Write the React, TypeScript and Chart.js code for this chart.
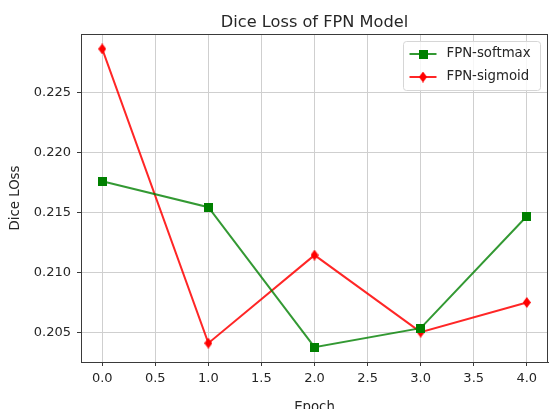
import React, { useEffect, useRef } from "react";
import { Chart, registerables } from "chart.js";

Chart.register(...registerables);

// Dice loss per epoch for the two FPN variants
const epochs = [0, 1, 2, 3, 4];
const softmaxLoss = [0.21763, 0.21547, 0.20381, 0.20539, 0.21472];
const sigmoidLoss = [0.22867, 0.20414, 0.21148, 0.20506, 0.20753];

const xTicks = [0, 0.5, 1, 1.5, 2, 2.5, 3, 3.5, 4];
const yTicks = [0.205, 0.21, 0.215, 0.22, 0.225];

const seriesNames = ["FPN-softmax", "FPN-sigmoid"];
const titleText = "Dice Loss of FPN Model";
const xTitle = "Epoch";
const yTitle = "Dice LOss";

const FONT = "'DejaVu Sans', Verdana, sans-serif";
const GREEN = "#008000";
const RED = "#ff0000";
const GREEN_LINE = "rgba(0,128,0,0.8)";
const RED_LINE = "rgba(255,0,0,0.85)";
const TEXT = "#262626";
const SPINE = "#3a3a3a";
const GRID = "#cfcfcf";

function squareMarker(size: number, color: string) {
  const c = document.createElement("canvas");
  c.width = size;
  c.height = size;
  const ctx = c.getContext("2d")!;
  ctx.fillStyle = color;
  ctx.fillRect(0, 0, size, size);
  return c;
}

function diamondMarker(w: number, h: number, color: string) {
  const c = document.createElement("canvas");
  c.width = w;
  c.height = h;
  const ctx = c.getContext("2d")!;
  ctx.fillStyle = color;
  ctx.beginPath();
  ctx.moveTo(w / 2, 0);
  ctx.lineTo(w, h / 2);
  ctx.lineTo(w / 2, h);
  ctx.lineTo(0, h / 2);
  ctx.closePath();
  ctx.fill();
  return c;
}

const decorations = {
  id: "decorations",
  afterDraw(chart: any) {
    const { ctx, chartArea } = chart;
    const { left, right, top, bottom } = chartArea;
    ctx.save();

    // frame on all four sides
    ctx.strokeStyle = SPINE;
    ctx.lineWidth = 1;
    ctx.strokeRect(left + 0.5, top + 0.5, right - left - 1, bottom - top);

    // title
    ctx.fillStyle = TEXT;
    ctx.font = `16.2px ${FONT}`;
    ctx.textAlign = "center";
    ctx.textBaseline = "alphabetic";
    ctx.fillText(titleText, (left + right) / 2, 27);

    // axis titles
    ctx.font = `13.3px ${FONT}`;
    ctx.fillText(xTitle, (left + right) / 2, 411);
    ctx.save();
    ctx.translate(15.5, (top + bottom) / 2);
    ctx.rotate(-Math.PI / 2);
    ctx.textBaseline = "middle";
    ctx.fillText(yTitle, 0, 0);
    ctx.restore();

    // legend
    const bw = 137;
    const bh = 49;
    const bx = right - 7.5 - bw;
    const by = top + 7.5;
    ctx.beginPath();
    ctx.roundRect(bx, by, bw, bh, 3);
    ctx.fillStyle = "rgba(255,255,255,0.8)";
    ctx.fill();
    ctx.strokeStyle = "#d6d6d6";
    ctx.lineWidth = 1;
    ctx.stroke();

    const rows = [
      { name: seriesNames[0], line: GREEN_LINE, marker: chart.data.datasets[0].pointStyle },
      { name: seriesNames[1], line: RED_LINE, marker: chart.data.datasets[1].pointStyle },
    ];
    rows.forEach((r, i) => {
      const cy = by + 12.5 + i * 23;
      ctx.strokeStyle = r.line;
      ctx.lineWidth = 2;
      ctx.beginPath();
      ctx.moveTo(bx + 6, cy);
      ctx.lineTo(bx + 33, cy);
      ctx.stroke();
      const m = r.marker as HTMLCanvasElement;
      ctx.drawImage(m, bx + 19.5 - m.width / 2, cy - m.height / 2);
      ctx.fillStyle = TEXT;
      ctx.font = `13.3px ${FONT}`;
      ctx.textAlign = "left";
      ctx.textBaseline = "middle";
      ctx.fillText(r.name, bx + 43, cy);
    });

    ctx.restore();
  },
};

export default function App() {
  const canvasRef = useRef<HTMLCanvasElement | null>(null);

  useEffect(() => {
    const canvas = canvasRef.current;
    if (!canvas) return;

    const square = squareMarker(9, GREEN);
    const diamond = diamondMarker(8, 11, RED);

    const chart = new Chart(canvas, {
      type: "line",
      data: {
        datasets: [
          {
            label: seriesNames[0],
            data: epochs.map((e, i) => ({ x: e, y: softmaxLoss[i] })),
            borderColor: GREEN_LINE,
            backgroundColor: GREEN,
            borderWidth: 2,
            pointStyle: square as any,
            pointRadius: 5,
            tension: 0,
          },
          {
            label: seriesNames[1],
            data: epochs.map((e, i) => ({ x: e, y: sigmoidLoss[i] })),
            borderColor: RED_LINE,
            backgroundColor: RED,
            borderWidth: 2,
            pointStyle: diamond as any,
            pointRadius: 5,
            tension: 0,
          },
        ],
      },
      options: {
        responsive: false,
        animation: false,
        events: [],
        layout: { autoPadding: false, padding: { left: 0, top: 34, right: 1, bottom: 0 } },
        plugins: {
          legend: { display: false },
          title: { display: false },
          tooltip: { enabled: false },
        },
        scales: {
          x: {
            type: "linear",
            min: -0.2,
            max: 4.2,
            afterBuildTicks: (scale: any) => {
              scale.ticks = xTicks.map((v) => ({ value: v }));
            },
            afterFit: (scale: any) => {
              scale.height = 47;
              scale.paddingLeft = 0;
              scale.paddingRight = 0;
            },
            ticks: {
              autoSkip: false,
              maxRotation: 0,
              padding: 5,
              color: TEXT,
              font: { family: FONT, size: 13 },
              callback: (v: any) => Number(v).toFixed(1),
            },
            grid: {
              color: GRID,
              lineWidth: 1,
              tickLength: 4,
              tickColor: SPINE,
            },
            border: { display: true, color: SPINE, width: 1 },
          },
          y: {
            type: "linear",
            min: 0.20257,
            max: 0.22991,
            afterBuildTicks: (scale: any) => {
              scale.ticks = yTicks.map((v) => ({ value: v }));
            },
            afterFit: (scale: any) => {
              scale.width = 81;
              scale.paddingTop = 0;
              scale.paddingBottom = 0;
            },
            ticks: {
              autoSkip: false,
              padding: 6,
              color: TEXT,
              font: { family: FONT, size: 13 },
              callback: (v: any) => Number(v).toFixed(3),
            },
            grid: {
              color: GRID,
              lineWidth: 1,
              tickLength: 4,
              tickColor: SPINE,
            },
            border: { display: true, color: SPINE, width: 1 },
          },
        },
      },
      plugins: [decorations],
    });

    return () => chart.destroy();
  }, []);

  return (
    <div style={{ position: "fixed", left: 0, top: 0, width: 549, height: 409, background: "#fff" }}>
      <canvas ref={canvasRef} width={549} height={409} style={{ display: "block" }} />
    </div>
  );
}
